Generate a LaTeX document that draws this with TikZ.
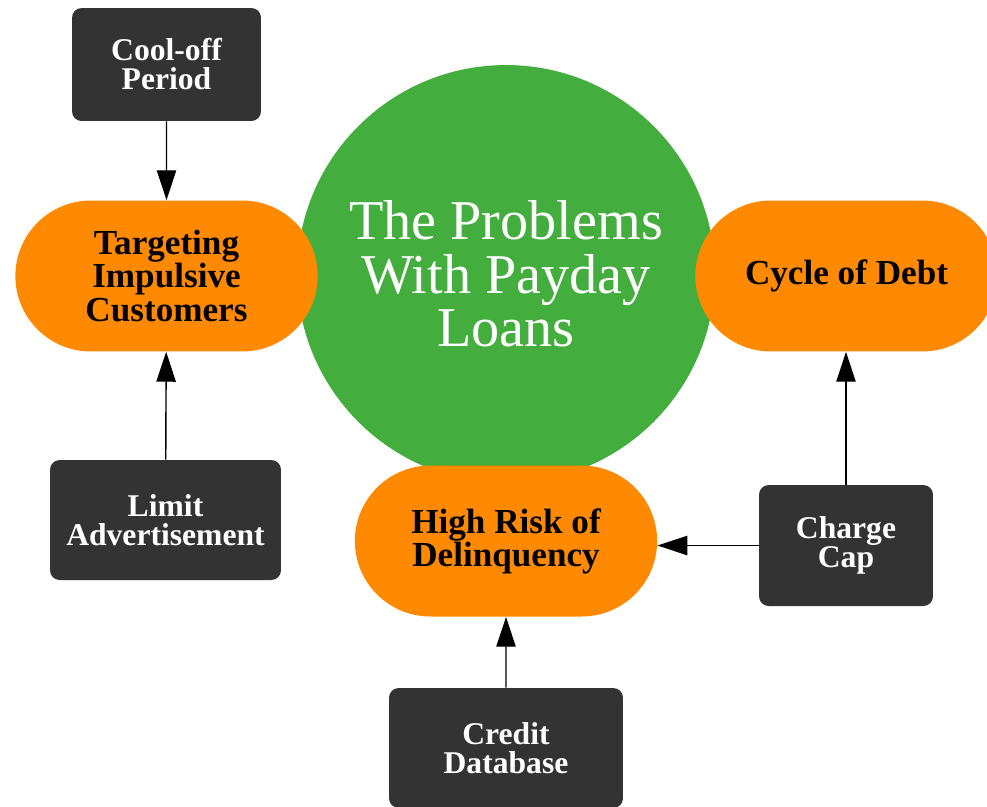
\documentclass[tikz,border=0pt]{standalone}
\usepackage{fontspec}
\setmainfont{Liberation Serif}
\usetikzlibrary{arrows.meta, shapes.misc}

\definecolor{paygreen}{RGB}{67,173,61}
\definecolor{payorange}{RGB}{255,137,0}
\definecolor{paydark}{RGB}{51,51,51}

\begin{document}
\begin{tikzpicture}[x=0.02cm, y=-0.02cm, >={Triangle[length=17pt, width=11pt]},
    problem/.style={rounded rectangle, fill=payorange, minimum width=6.28cm, minimum height=3.02cm,
        align=center, text=black, font=\fontsize{20}{18.8}\selectfont\bfseries},
    remedy/.style={rectangle, rounded corners=5.5pt, fill=paydark, minimum height=2.4cm,
        align=center, text=white, font=\fontsize{18}{16.5}\selectfont\bfseries},
    link/.style={->, line width=0.8pt}]

    \useasboundingbox (0,0) rectangle (987,806);
    \clip (0,0) rectangle (987,806);

    \node[circle, fill=paygreen, minimum size=8.36cm, align=center, text=white,
        font=\fontsize{32}{30.5}\selectfont] (title) at (506,274)
        {The Problems\\With Payday\\Loans};

    \node[problem] (target) at (166.5,276) {Targeting\\Impulsive\\Customers};
    \node[problem] (cycle) at (846.5,276) {Cycle of Debt};
    \node[problem] (risk) at (506,541) {High Risk of\\Delinquency};

    \node[remedy, minimum width=3.78cm, minimum height=2.26cm] (cool) at (166.5,64.5) {Cool-off\\Period};
    \node[remedy, minimum width=4.62cm] (limit) at (165.5,520) {Limit\\Advertisement};
    \node[remedy, minimum width=3.48cm, minimum height=2.42cm] (cap) at (846,545.5) {Charge\\Cap};
    \node[remedy, minimum width=4.68cm] (credit) at (506,748) {Credit\\Database};

    \draw[link] (cool) -- (target);
    \draw[link] (limit) -- (target);
    \draw[link] (credit) -- (risk);
    \draw[link] (cap.north) -- (cap.north |- cycle.south);
    \draw[link] (cap.west) -- (cap.west -| risk.east);

\end{tikzpicture}
\end{document}
